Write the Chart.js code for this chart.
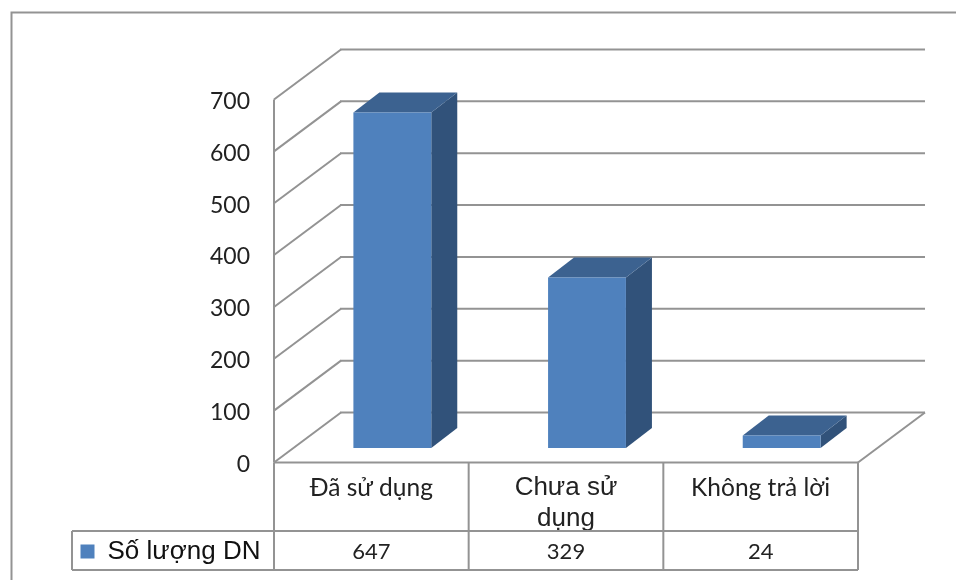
<!DOCTYPE html>
<html>
<head>
<meta charset="utf-8">
<script src="https://cdn.jsdelivr.net/npm/chart.js@4"></script>
<style>html,body{margin:0;padding:0;background:#fff}canvas{display:block}</style>
</head>
<body>
<canvas id="c" width="956" height="580"></canvas>
<script>
const categories = ['Đã sử dụng', ['Chưa sử', 'dụng'], 'Không trả lời'];
const seriesName = 'Số lượng DN';
const values = [647, 329, 24];
const yTicks = [0, 100, 200, 300, 400, 500, 600, 700];

const LINE = '#939393', TEXT = '#222222';
const FRONT = '#4f81bd', SIDE = '#31527a', TOP = '#3c6290';
const WALL_DX = 67, WALL_DY = -50;   // depth of the back wall
const BAR_DX = 21, BAR_DY = -14.5;   // bar position on the floor
const DEPTH_DX = 26, DEPTH_DY = -20; // depth of a bar
const TABLE_LEFT = 72, TABLE_BOTTOM = 570;
const PAD_LEFT = 73, AXIS_LEFT = 274;

function poly(ctx, pts, fill) {
  ctx.beginPath();
  pts.forEach((p, i) => i ? ctx.lineTo(p[0], p[1]) : ctx.moveTo(p[0], p[1]));
  ctx.closePath();
  ctx.fillStyle = fill;
  ctx.fill();
}
function seg(ctx, x1, y1, x2, y2) {
  ctx.beginPath(); ctx.moveTo(x1, y1); ctx.lineTo(x2, y2); ctx.stroke();
}

const frame3d = {
  id: 'frame3d',
  beforeDatasetsDraw(chart) {
    const { ctx, chartArea: a, scales: { y } } = chart;
    ctx.save();
    ctx.strokeStyle = LINE;
    ctx.lineWidth = 2;
    // outer frame of the picture
    ctx.beginPath();
    ctx.moveTo(11.5, 580); ctx.lineTo(11.5, 12.5); ctx.lineTo(956, 12.5);
    ctx.stroke();
    // walls
    yTicks.forEach(v => {
      const py = y.getPixelForValue(v);
      seg(ctx, a.left, py, a.left + WALL_DX, py + WALL_DY);
      seg(ctx, a.left + WALL_DX - 1, py + WALL_DY, a.right + WALL_DX, py + WALL_DY);
    });
    seg(ctx, a.left, a.top, a.left, a.bottom);
    // floor
    seg(ctx, a.right, a.bottom, a.right + WALL_DX, a.bottom + WALL_DY);
    ctx.restore();
    ctx.save();
    ctx.translate(BAR_DX, BAR_DY);
    chart.getDatasetMeta(0).data.forEach(b => {
      const l = b.x - b.width / 2, r = b.x + b.width / 2;
      poly(ctx, [[r, b.y], [r + DEPTH_DX, b.y + DEPTH_DY], [r + DEPTH_DX, b.base + DEPTH_DY], [r, b.base]], SIDE);
      poly(ctx, [[l, b.y], [l + DEPTH_DX, b.y + DEPTH_DY], [r + DEPTH_DX, b.y + DEPTH_DY], [r, b.y]], TOP);
    });
  },
  afterDatasetsDraw(chart) {
    chart.ctx.restore();
    const { ctx, chartArea: a, scales: { x } } = chart;
    const rowY = a.bottom + 68.5;
    ctx.save();
    ctx.strokeStyle = LINE;
    ctx.lineWidth = 2;
    // data table
    seg(ctx, a.left, a.bottom, a.right, a.bottom);
    seg(ctx, TABLE_LEFT, rowY, a.right, rowY);
    seg(ctx, TABLE_LEFT, TABLE_BOTTOM, a.right, TABLE_BOTTOM);
    seg(ctx, TABLE_LEFT, rowY, TABLE_LEFT, TABLE_BOTTOM);
    const step = (a.right - a.left) / categories.length;
    for (let i = 0; i <= categories.length; i++) {
      seg(ctx, a.left + i * step, a.bottom, a.left + i * step, TABLE_BOTTOM);
    }
    // value row
    ctx.fillStyle = TEXT;
    ctx.font = '22px Lato';
    ctx.textAlign = 'center';
    ctx.textBaseline = 'middle';
    values.forEach((v, i) => ctx.fillText(String(v), x.getPixelForTick(i), (rowY + TABLE_BOTTOM) / 2 + 1));
    ctx.restore();
  }
};

new Chart(document.getElementById('c'), {
  type: 'bar',
  plugins: [frame3d],
  data: {
    labels: categories,
    datasets: [{
      label: seriesName,
      data: values,
      backgroundColor: FRONT,
      borderWidth: 0,
      barPercentage: 0.4,
      categoryPercentage: 1
    }]
  },
  options: {
    responsive: false,
    animation: false,
    devicePixelRatio: 1,
    layout: { padding: { left: PAD_LEFT, top: 99.5, right: 98, bottom: 5.5 } },
    plugins: {
      tooltip: { enabled: false },
      title: { display: false },
      legend: {
        position: 'bottom',
        align: 'start',
        labels: {
          color: '#111111',
          font: { family: '"Liberation Sans"', size: 26 },
          boxWidth: 14,
          boxHeight: 14,
          padding: 7.5
        }
      }
    },
    scales: {
      x: {
        grid: { display: false, drawTicks: false },
        border: { display: false },
        afterFit(s) { s.height = 68.5; },
        ticks: {
          autoSkip: false,
          maxRotation: 0,
          minRotation: 0,
          padding: 10,
          color: TEXT,
          font: ctx => ctx.index === 1
            ? { family: '"Liberation Sans"', size: 26, lineHeight: 1.2 }
            : { family: 'Lato', size: 24.5, lineHeight: 1.3 }
        }
      },
      y: {
        min: 0,
        max: 700,
        grid: { display: false, drawTicks: false },
        border: { display: false },
        afterFit(s) {
          s.width = AXIS_LEFT - PAD_LEFT;
          const draw = Object.getPrototypeOf(s).drawLabels;
          s.drawLabels = function (area) {
            this.ctx.save();
            this.ctx.translate(0, 2);
            draw.call(this, area);
            this.ctx.restore();
          };
        },
        afterBuildTicks(s) { s.ticks = yTicks.map(v => ({ value: v })); },
        ticks: {
          padding: 24,
          color: TEXT,
          font: { family: 'Lato', size: 23 }
        }
      }
    }
  }
});
</script>
</body>
</html>
